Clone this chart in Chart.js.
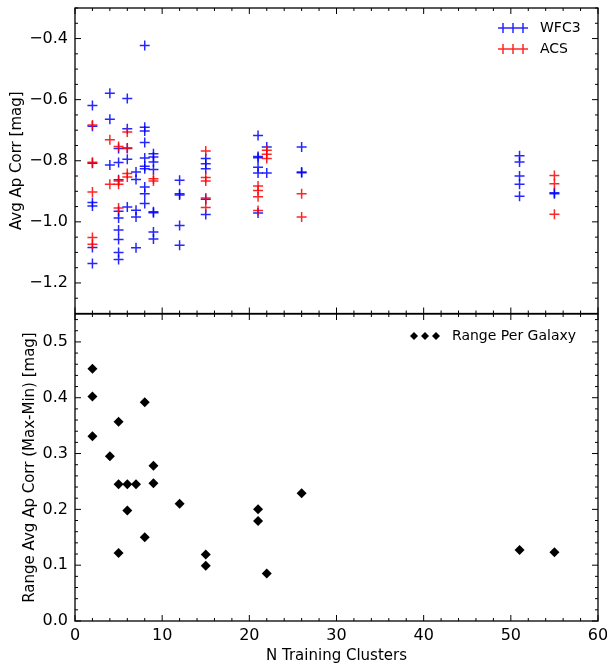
<!DOCTYPE html>
<html>
<head>
<meta charset="utf-8">
<script src="https://cdn.jsdelivr.net/npm/chart.js@4.4.1/dist/chart.umd.min.js"></script>
<style>
  html, body { margin: 0; padding: 0; background: #fff; }
  #wrap { position: relative; width: 607px; height: 668px; }
  #corrChart { position: absolute; left: 0; top: 0; }
  #rangeChart { position: absolute; left: 0; top: 308px; }
</style>
</head>
<body>
<div id="wrap">
  <canvas id="corrChart" width="607" height="320"></canvas>
  <canvas id="rangeChart" width="607" height="360"></canvas>
</div>
<script>
// top panel: average aperture correction per training set
const wfc3N = [2, 2, 2, 2, 2, 2, 2, 4, 4, 4, 5, 5, 5, 5, 5, 5, 5, 5, 5, 6, 6, 6, 6, 6,
    7, 7, 7, 7, 7, 8, 8, 8, 8, 8, 8, 8, 8, 8, 8, 9, 9, 9, 9, 9, 9, 9, 9,
    12, 12, 12, 12, 12, 15, 15, 15, 15, 15, 21, 21, 21, 21, 21, 21, 22, 22,
    26, 26, 26, 51, 51, 51, 51, 51, 55, 55];
const wfc3Corr = [-0.619, -0.687, -0.808, -0.937, -0.948, -1.084, -1.136,
    -0.579, -0.664, -0.814,
    -0.760, -0.806, -0.862, -0.965, -0.987, -1.027, -1.058, -1.100, -1.123,
    -0.596, -0.695, -0.758, -0.795, -0.951,
    -0.837, -0.861, -0.962, -0.984, -1.085,
    -0.423, -0.690, -0.703, -0.740, -0.791, -0.818, -0.826, -0.886, -0.908, -0.940,
    -0.777, -0.788, -0.804, -0.829, -0.967, -0.970, -1.033, -1.056,
    -0.864, -0.908, -0.912, -1.012, -1.077,
    -0.793, -0.810, -0.826, -0.926, -0.976,
    -0.717, -0.786, -0.790, -0.821, -0.840, -0.971,
    -0.755, -0.840,
    -0.755, -0.837, -0.839,
    -0.784, -0.804, -0.850, -0.877, -0.916,
    -0.905, -0.908];
const acsN = [2, 2, 2, 2, 2, 4, 4, 5, 5, 5, 5, 6, 6, 6, 6, 9, 9,
    15, 15, 15, 15, 15, 21, 21, 21, 21, 22, 22, 22, 26, 26, 55, 55, 55];
const acsCorr = [-0.683, -0.805, -0.902, -1.051, -1.073,
    -0.731, -0.877,
    -0.753, -0.866, -0.877, -0.955,
    -0.706, -0.760, -0.842, -0.853,
    -0.859, -0.866,
    -0.768, -0.855, -0.866, -0.922, -0.953,
    -0.883, -0.897, -0.918, -0.963,
    -0.766, -0.779, -0.793,
    -0.908, -0.984,
    -0.848, -0.875, -0.975];

// bottom panel: range per galaxy
const rangeN = [2, 2, 2, 4, 5, 5, 5, 6, 6, 7, 8, 8, 9, 9, 12, 15, 15, 21, 21, 22, 26, 51, 55];
const rangeVal = [0.452, 0.402, 0.331, 0.295, 0.357, 0.245, 0.122, 0.245, 0.198, 0.245,
    0.392, 0.150, 0.278, 0.247, 0.210, 0.119, 0.099, 0.200, 0.179, 0.085, 0.229, 0.127, 0.123];

// tick labels
const nTicks = [0, 10, 20, 30, 40, 50, 60];
const corrTicks = [-1.2, -1.0, -0.8, -0.6, -0.4];
const rangeTicks = [0.0, 0.1, 0.2, 0.3, 0.4, 0.5];

Chart.defaults.font.family = '"DejaVu Sans", sans-serif';
Chart.defaults.color = '#000';

function pts(xs, ys) {
    return xs.map((x, i) => ({x: x, y: ys[i]}));
}
function setTicks(list) {
    return scale => { scale.ticks = list.map(v => ({value: v})); };
}
// fixed axis size, and no extra room for labels hanging over the ends
function fixSize(key, size) {
    return s => {
        s[key] = size;
        s.paddingTop = s.paddingBottom = s.paddingLeft = s.paddingRight = 0;
    };
}
const fmt1 = v => (Math.round(v * 10) / 10).toFixed(1).replace('-', '\u2212');

// matplotlib style box with inward ticks on every side
const frameTicks = {
    id: 'frameTicks',
    afterDraw(chart, args, opts) {
        const {ctx, chartArea: a, scales} = chart;
        ctx.save();
        ctx.strokeStyle = '#000';
        ctx.lineWidth = 1;
        const drawSet = (scale, step, horizontal) => {
            const majors = scale.ticks.map(t => t.value);
            const first = Math.ceil(scale.min / step - 1e-6);
            const last = Math.floor(scale.max / step + 1e-6);
            for (let i = first; i <= last; i++) {
                const v = i * step;
                const len = majors.some(m => Math.abs(m - v) < step / 10) ? 6 : 3;
                const p = scale.getPixelForValue(v);
                ctx.beginPath();
                if (horizontal) {
                    ctx.moveTo(p, a.bottom); ctx.lineTo(p, a.bottom - len);
                    ctx.moveTo(p, a.top); ctx.lineTo(p, a.top + len);
                } else {
                    ctx.moveTo(a.left, p); ctx.lineTo(a.left + len, p);
                    ctx.moveTo(a.right, p); ctx.lineTo(a.right - len, p);
                }
                ctx.stroke();
            }
        };
        drawSet(scales.x, opts.xMinor, true);
        drawSet(scales.y, opts.yMinor, false);
        ctx.lineWidth = 1.3;
        ctx.strokeRect(a.left, a.top, a.right - a.left, a.bottom - a.top);
        ctx.restore();
    }
};

// legend with three markers per entry, inside the axes
const markerLegend = {
    id: 'markerLegend',
    afterDraw(chart, args, opts) {
        const ctx = chart.ctx;
        ctx.save();
        opts.items.forEach((item, k) => {
            const ds = chart.data.datasets[item.dataset];
            const y = opts.y + k * opts.rowGap;
            opts.markerX.forEach(mx => {
                ctx.strokeStyle = ds.borderColor;
                ctx.fillStyle = ds.backgroundColor;
                ctx.lineWidth = ds.borderWidth;
                Chart.helpers.drawPoint(ctx, {
                    pointStyle: ds.pointStyle,
                    radius: item.radius || ds.pointRadius,
                    borderWidth: ds.borderWidth,
                    rotation: 0
                }, mx, y);
            });
            ctx.font = '14px "DejaVu Sans"';
            ctx.textBaseline = 'middle';
            ctx.fillStyle = '#000';
            ctx.fillText(ds.label, opts.textX, y);
        });
        ctx.restore();
    }
};

const blue = 'rgba(0,0,255,0.85)';
const red = 'rgba(255,0,0,0.85)';

new Chart(document.getElementById('corrChart'), {
    type: 'scatter',
    data: {
        datasets: [{
            label: 'WFC3',
            data: pts(wfc3N, wfc3Corr),
            pointStyle: 'cross',
            pointRadius: 5,
            borderWidth: 1.5,
            borderColor: blue,
            backgroundColor: blue,
            order: 1
        }, {
            label: 'ACS',
            data: pts(acsN, acsCorr),
            pointStyle: 'cross',
            pointRadius: 5,
            borderWidth: 1.5,
            borderColor: red,
            backgroundColor: red,
            order: 0
        }]
    },
    options: {
        responsive: false,
        animation: false,
        events: [],
        layout: {padding: {top: 8, right: 9, bottom: 6, left: 0}},
        plugins: {
            legend: {display: false},
            tooltip: {enabled: false},
            frameTicks: {xMinor: 2, yMinor: 0.05},
            markerLegend: {
                items: [{dataset: 0}, {dataset: 1}],
                markerX: [503, 513, 523],
                y: 28,
                rowGap: 21,
                textX: 540
            }
        },
        scales: {
            x: {
                type: 'linear',
                min: 0,
                max: 60,
                grid: {display: false, drawTicks: false},
                border: {display: false},
                ticks: {display: false},
                afterBuildTicks: setTicks(nTicks),
                afterFit: fixSize('height', 0)
            },
            y: {
                min: -1.3,
                max: -0.3,
                grid: {display: false, drawTicks: false},
                border: {display: false},
                ticks: {padding: 7, font: {size: 16}, callback: fmt1, autoSkip: false},
                afterBuildTicks: setTicks(corrTicks),
                afterFit: fixSize('width', 75),
                title: {
                    display: true,
                    text: 'Avg Ap Corr [mag]',
                    font: {size: 15},
                    padding: {top: 8, bottom: 0}
                }
            }
        }
    },
    plugins: [frameTicks, markerLegend]
});

new Chart(document.getElementById('rangeChart'), {
    type: 'scatter',
    data: {
        datasets: [{
            label: 'Range Per Galaxy',
            data: pts(rangeN, rangeVal),
            pointStyle: 'rectRot',
            pointRadius: 5,
            borderWidth: 0,
            borderColor: '#000',
            backgroundColor: '#000'
        }]
    },
    options: {
        responsive: false,
        animation: false,
        events: [],
        layout: {padding: {top: 6, right: 9, bottom: 0, left: 0}},
        plugins: {
            legend: {display: false},
            tooltip: {enabled: false},
            frameTicks: {xMinor: 2, yMinor: 0.02},
            markerLegend: {
                items: [{dataset: 0, radius: 4}],
                markerX: [414, 425, 436],
                y: 28,
                rowGap: 0,
                textX: 452
            }
        },
        scales: {
            x: {
                type: 'linear',
                min: 0,
                max: 60,
                grid: {display: false, drawTicks: false},
                border: {display: false},
                ticks: {padding: 5, font: {size: 16}, maxRotation: 0, autoSkip: false},
                afterBuildTicks: setTicks(nTicks),
                afterFit: fixSize('height', 47),
                title: {
                    display: true,
                    text: 'N Training Clusters',
                    font: {size: 15},
                    padding: {top: 3, bottom: 3}
                }
            },
            y: {
                min: 0,
                max: 0.55,
                grid: {display: false, drawTicks: false},
                border: {display: false},
                ticks: {padding: 7, font: {size: 16}, callback: fmt1, autoSkip: false},
                afterBuildTicks: setTicks(rangeTicks),
                afterFit: fixSize('width', 75),
                title: {
                    display: true,
                    text: 'Range Avg Ap Corr (Max-Min) [mag]',
                    font: {size: 15},
                    padding: {top: 21, bottom: 0}
                }
            }
        }
    },
    plugins: [frameTicks, markerLegend]
});
</script>
</body>
</html>
